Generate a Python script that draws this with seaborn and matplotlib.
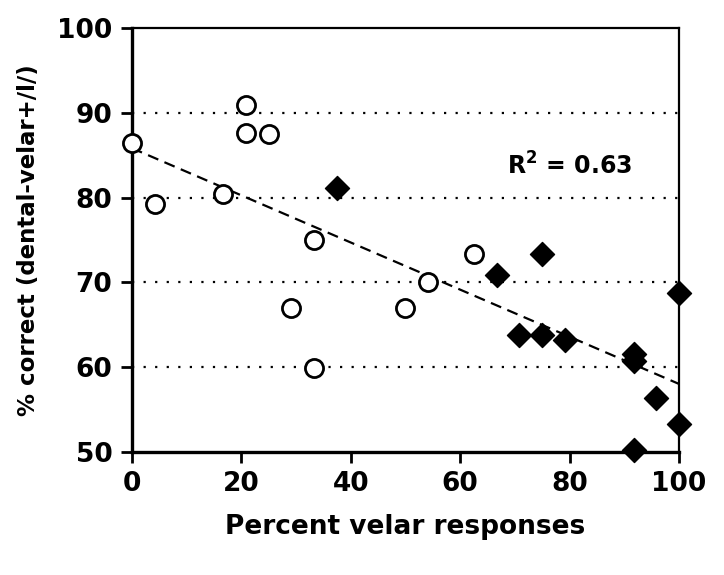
import numpy as np
import pandas as pd
import matplotlib
matplotlib.use("Agg")
import matplotlib.pyplot as plt
import seaborn as sns

# open circles
open_x = [0, 4.17, 16.67, 20.83, 20.83, 25, 29.17, 33.33, 33.33, 50, 54.17, 62.5]
open_y = [86.5, 79.2, 80.4, 90.9, 87.6, 87.5, 67.0, 75.0, 59.9, 67.0, 70.1, 73.4]

# filled diamonds
filled_x = [37.5, 66.67, 70.83, 75, 75, 79.17, 91.67, 91.67, 91.67, 95.83, 100, 100]
filled_y = [81.1, 70.9, 63.8, 73.4, 63.8, 63.2, 61.6, 60.7, 50.2, 56.4, 68.7, 53.3]

x_ticks = [0, 20, 40, 60, 80, 100]
y_ticks = [50, 60, 70, 80, 90, 100]
grid_levels = [60, 70, 80, 90]
r2_label = "R$^2$ = 0.63"


def main():
    sns.set_style("white")
    plt.rcParams['font.family'] = ['DejaVu Sans']
    plt.rcParams['font.weight'] = 'bold'
    plt.rcParams['text.color'] = 'black'
    plt.rcParams['axes.labelcolor'] = 'black'
    plt.rcParams['xtick.color'] = 'black'
    plt.rcParams['ytick.color'] = 'black'
    plt.rcParams['mathtext.default'] = 'bf'

    df_open = pd.DataFrame({'x': open_x, 'y': open_y})
    df_filled = pd.DataFrame({'x': filled_x, 'y': filled_y})

    fig, ax = plt.subplots(figsize=(7.24, 5.75), dpi=100)
    fig.subplots_adjust(left=0.182, right=0.938, top=0.951, bottom=0.214)

    for g in grid_levels:
        ax.axhline(g, color='black', linestyle=(0, (1, 4.2)), linewidth=1.6, zorder=1)

    # regression line over all points
    all_x = np.array(open_x + filled_x)
    all_y = np.array(open_y + filled_y)
    slope, intercept = np.polyfit(all_x, all_y, 1)
    xs = np.array([0, 100])
    ax.plot(xs, intercept + slope * xs, color='black', linestyle=(0, (5, 3)),
            linewidth=1.6, zorder=2)

    sns.scatterplot(data=df_open, x='x', y='y', ax=ax, marker='o', s=170,
                    facecolor='white', edgecolor='black', linewidth=2, zorder=3,
                    clip_on=False)
    sns.scatterplot(data=df_filled, x='x', y='y', ax=ax, marker='D', s=150,
                    color='black', edgecolor='black', linewidth=1, zorder=3,
                    clip_on=False)

    ax.text(68.5, 83.7, r2_label, fontsize=17, fontweight='bold', va='center',
            color='black')

    ax.set_xlim(0, 100)
    ax.set_ylim(50, 100)
    ax.set_xticks(x_ticks)
    ax.set_yticks(y_ticks)
    ax.tick_params(axis='both', direction='out', length=8, width=2, colors='black',
                   labelsize=19, pad=6, bottom=True, left=True)
    for lab in ax.get_xticklabels() + ax.get_yticklabels():
        lab.set_fontweight('bold')

    for side in ['left', 'bottom']:
        ax.spines[side].set_linewidth(2.4)
        ax.spines[side].set_color('black')
    for side in ['top', 'right']:
        ax.spines[side].set_linewidth(1.6)
        ax.spines[side].set_color('black')

    ax.set_xlabel('Percent velar responses', fontsize=19, fontweight='bold',
                  labelpad=12, color='black')
    ax.set_ylabel('% correct (dental-velar+/l/)', fontsize=16.5, fontweight='bold',
                  labelpad=12, color='black')

    plt.savefig('out.png', dpi=100)
    plt.close()


if __name__ == "__main__":
    main()
